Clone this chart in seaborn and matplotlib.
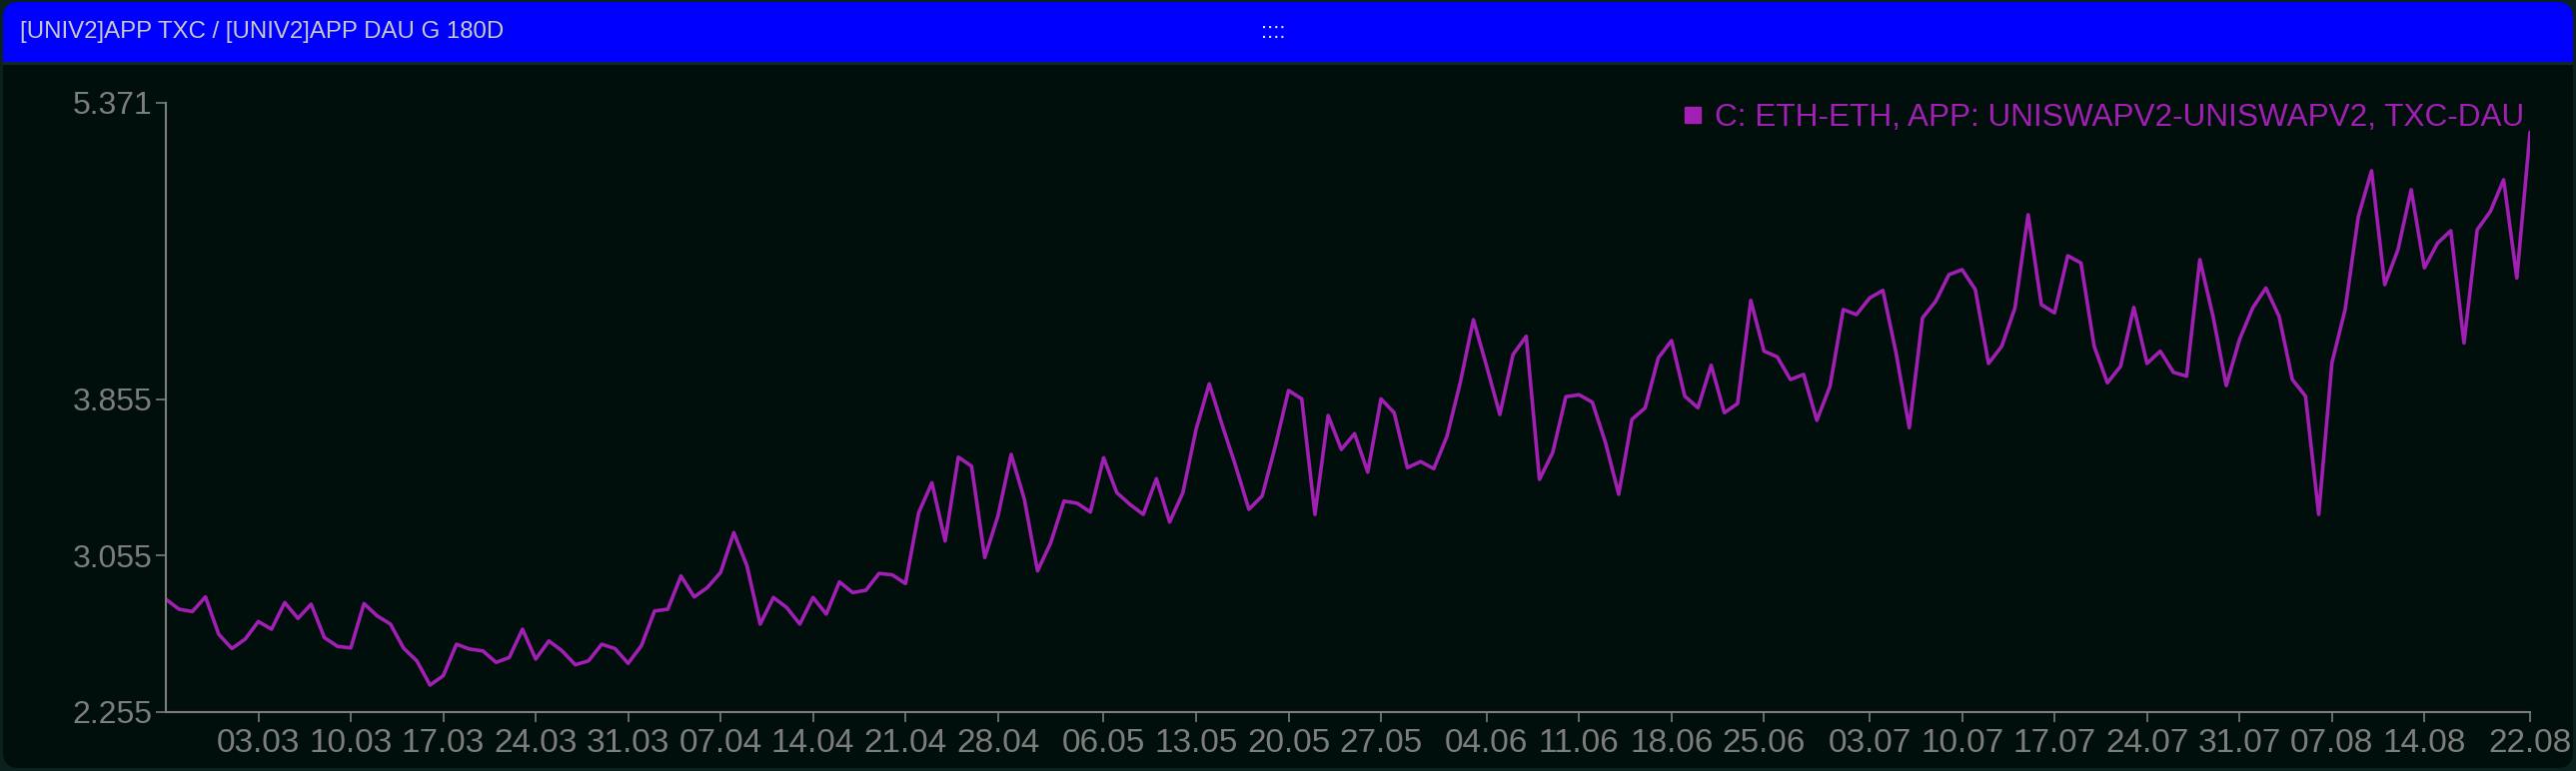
import numpy as np
import pandas as pd
import seaborn as sns
from matplotlib import pyplot as plt
from matplotlib import dates as mdates
from matplotlib.lines import Line2D
from matplotlib.patches import FancyBboxPatch, Rectangle
from matplotlib.transforms import IdentityTransform

# daily values, 25.02.2024 .. 22.08.2024
start_date = "2024-02-25"
txc_dau = [
    2.832, 2.781, 2.769, 2.844, 2.653, 2.580, 2.628, 2.718, 2.679, 2.815,
    2.734, 2.807, 2.636, 2.591, 2.583, 2.810, 2.747, 2.705, 2.582, 2.517,
    2.393, 2.441, 2.602, 2.577, 2.568, 2.509, 2.534, 2.679, 2.526, 2.619,
    2.568, 2.497, 2.517, 2.602, 2.580, 2.504, 2.594, 2.772, 2.781, 2.951,
    2.844, 2.892, 2.969, 3.173, 3.002, 2.705, 2.841, 2.790, 2.705, 2.841,
    2.756, 2.921, 2.866, 2.878, 2.964, 2.957, 2.912, 3.275, 3.428, 3.130,
    3.559, 3.513, 3.045, 3.258, 3.573, 3.343, 2.977, 3.122, 3.334, 3.323,
    3.278, 3.556, 3.377, 3.317, 3.266, 3.449, 3.227, 3.377, 3.701, 3.934,
    3.718, 3.513, 3.292, 3.360, 3.615, 3.900, 3.857, 3.266, 3.772, 3.598,
    3.679, 3.482, 3.857, 3.786, 3.505, 3.536, 3.500, 3.666, 3.939, 4.262,
    4.024, 3.777, 4.084, 4.177, 3.445, 3.582, 3.868, 3.878, 3.840, 3.633,
    3.369, 3.752, 3.811, 4.067, 4.155, 3.871, 3.811, 4.029, 3.786, 3.833,
    4.361, 4.101, 4.072, 3.956, 3.982, 3.747, 3.922, 4.314, 4.288, 4.373,
    4.412, 4.092, 3.709, 4.271, 4.356, 4.492, 4.518, 4.416, 4.038, 4.126,
    4.322, 4.799, 4.339, 4.297, 4.589, 4.552, 4.126, 3.939, 4.024, 4.325,
    4.038, 4.101, 3.993, 3.973, 4.569, 4.279, 3.925, 4.160, 4.322, 4.424,
    4.279, 3.956, 3.871, 3.266, 4.041, 4.314, 4.790, 5.024, 4.441, 4.620,
    4.927, 4.527, 4.654, 4.717, 4.143, 4.722, 4.816, 4.978, 4.475, 5.221,
]
x_ticks = [
    "2024-03-03", "2024-03-10", "2024-03-17", "2024-03-24", "2024-03-31",
    "2024-04-07", "2024-04-14", "2024-04-21", "2024-04-28", "2024-05-06",
    "2024-05-13", "2024-05-20", "2024-05-27", "2024-06-04", "2024-06-11",
    "2024-06-18", "2024-06-25", "2024-07-03", "2024-07-10", "2024-07-17",
    "2024-07-24", "2024-07-31", "2024-08-07", "2024-08-14", "2024-08-22",
]
y_ticks = [2.255, 3.055, 3.855, 5.371]
title = "[UNIV2]APP TXC / [UNIV2]APP DAU G 180D"
series_name = "C: ETH-ETH, APP: UNISWAPV2-UNISWAPV2, TXC-DAU"

BG = "#000f0b"
BORDER = "#0b211d"
PURPLE = "#a11fb3"
GREY = "#7d7d7d"

sns.set_theme(style="dark")
plt.rcParams["font.family"] = ["Liberation Sans", "DejaVu Sans"]

df = pd.DataFrame({
    "date": pd.date_range(start_date, periods=len(txc_dau), freq="D"),
    "value": txc_dau,
})

W, H = 2578, 772
fig = plt.figure(figsize=(W / 100, H / 100), dpi=100)
fig.patch.set_facecolor(BORDER)

px = IdentityTransform()
fig.add_artist(FancyBboxPatch((3, 3), W - 6, H - 6,
                              boxstyle="round,pad=0,rounding_size=16",
                              transform=px, facecolor=BG, edgecolor="none", zorder=-5))
fig.add_artist(FancyBboxPatch((3, H - 62), W - 6, 60,
                              boxstyle="round,pad=0,rounding_size=16",
                              transform=px, facecolor="#0000ff", edgecolor="none", zorder=-4))
fig.add_artist(Rectangle((3, H - 62), W - 6, 30, transform=px,
                         facecolor="#0000ff", edgecolor="none", zorder=-4))
fig.add_artist(Rectangle((3, H - 65), W - 6, 3, transform=px,
                         facecolor="#0d2a26", edgecolor="none", zorder=-4))
fig.text(20 / W, 1 - 32 / H, title, color="#c8c8c8", fontsize=17.3,
         ha="left", va="center")
fig.text(1274 / W, 1 - 32 / H, "::::", color="#e0e0e0", fontsize=16,
         ha="center", va="center")

ax = fig.add_axes([166 / W, 1 - 713 / H, (2532 - 166) / W, (713 - 103) / H])
ax.patch.set_alpha(0)

sns.lineplot(data=df, x="date", y="value", ax=ax, color=PURPLE,
             linewidth=2.6, legend=False)

ax.set_xlim(df["date"].iloc[0], df["date"].iloc[-1])
ax.set_ylim(y_ticks[0], y_ticks[-1])
ax.set_yticks(y_ticks)
ax.set_yticklabels([f"{v:.3f}" for v in y_ticks])
ax.set_xticks(pd.to_datetime(x_ticks))
ax.xaxis.set_major_formatter(mdates.DateFormatter("%d.%m"))
ax.set_xlabel("")
ax.set_ylabel("")
ax.grid(False)

for side in ["top", "right"]:
    ax.spines[side].set_visible(False)
for side in ["left", "bottom"]:
    ax.spines[side].set_color(GREY)
    ax.spines[side].set_linewidth(1.5)
ax.tick_params(axis="both", which="major", direction="out", length=7.5,
               width=1.2, color=GREY, labelcolor=GREY, bottom=True, left=True)
ax.tick_params(axis="x", labelsize=24, pad=4)
ax.tick_params(axis="y", labelsize=23, pad=2.5)

handle = Line2D([], [], linestyle="none", marker="s", markersize=12,
                markerfacecolor=PURPLE, markeredgecolor=PURPLE)
leg = ax.legend([handle], [series_name], loc="upper right",
                bbox_to_anchor=(1.003, 1.02), frameon=False, fontsize=22.7,
                handletextpad=0.3, borderaxespad=0, handlelength=0.8)
for t in leg.get_texts():
    t.set_color(PURPLE)

fig.savefig("out.png", dpi=100, facecolor=fig.get_facecolor())
